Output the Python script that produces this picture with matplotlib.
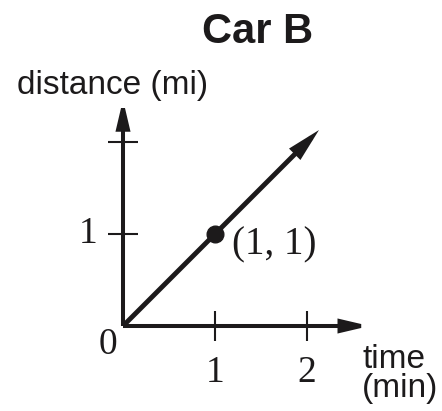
import matplotlib
matplotlib.use("Agg")
import matplotlib.pyplot as plt

# ---- data ----
title = "Car B"
x_label = "time\n(min)"
y_label = "distance (mi)"
x_ticks = [1, 2]
x_tick_labels = ["1", "2"]
y_ticks = [1, 2]
y_tick_labels = ["1", ""]
line_x = [0, 2.13]
line_y = [0, 2.13]
point_x = [1]
point_y = [1]
point_labels = ["(1, 1)"]
x_axis_end = 2.68
y_axis_end = 2.46

INK = "#1c1a1b"
SANS = "Liberation Sans"
SERIF = "Liberation Serif"

fig = plt.figure(figsize=(4.42, 4.11), dpi=100)
ax = fig.add_axes([0, 0, 1, 1])
ax.set_xlim(-123 / 92, 319 / 92)
ax.set_ylim(-85 / 92, 326 / 92)
ax.axis("off")

def arrow(x0, y0, x1, y1, lw):
    ax.annotate("", xy=(x1, y1), xytext=(x0, y0),
                arrowprops=dict(arrowstyle="-|>,head_length=0.85,head_width=0.2",
                                mutation_scale=18, lw=lw, color=INK,
                                shrinkA=0, shrinkB=0, joinstyle="miter",
                                capstyle="butt"))

# axes
arrow(0, 0, x_axis_end, 0, 2.9)
arrow(0, 0, 0, y_axis_end, 2.9)

# ticks
tick_half = 0.16
for t in x_ticks:
    ax.plot([t, t], [-tick_half, tick_half], color=INK, lw=1.5, solid_capstyle="butt")
for t in y_ticks:
    ax.plot([-tick_half, tick_half], [t, t], color=INK, lw=1.5, solid_capstyle="butt")

# tick labels
for t, lab in zip(x_ticks, x_tick_labels):
    ax.text(t, -0.51, lab, ha="center", va="center", fontsize=27,
            family=SERIF, color=INK)
for t, lab in zip(y_ticks, y_tick_labels):
    if lab:
        ax.text(-0.38, t, lab, ha="center", va="center", fontsize=27,
                family=SERIF, color=INK)
ax.text(-0.16, -0.2, "0", ha="center", va="center", fontsize=27,
        family=SERIF, color=INK)

# diagonal line with arrow
arrow(line_x[0], line_y[0], line_x[1], line_y[1], 3.5)

# point
ax.plot(point_x, point_y, "o", color=INK, markersize=12)
for px, py, lab in zip(point_x, point_y, point_labels):
    ax.text(px + 0.19, py - 0.12, lab, ha="left", va="center", fontsize=28,
            family=SERIF, color=INK)

# labels
ax.text(-0.11, 2.52, y_label, ha="center", va="baseline", fontsize=24,
        family=SANS, color=INK)
ax.text(2.6, -0.2, x_label, ha="left", va="top", fontsize=24,
        family=SANS, color=INK, linespacing=0.9)
ax.text(1.46, 3.08, title, ha="center", va="baseline", fontsize=30,
        family=SANS, fontweight="bold", color=INK)

fig.savefig("out.png", dpi=100)
